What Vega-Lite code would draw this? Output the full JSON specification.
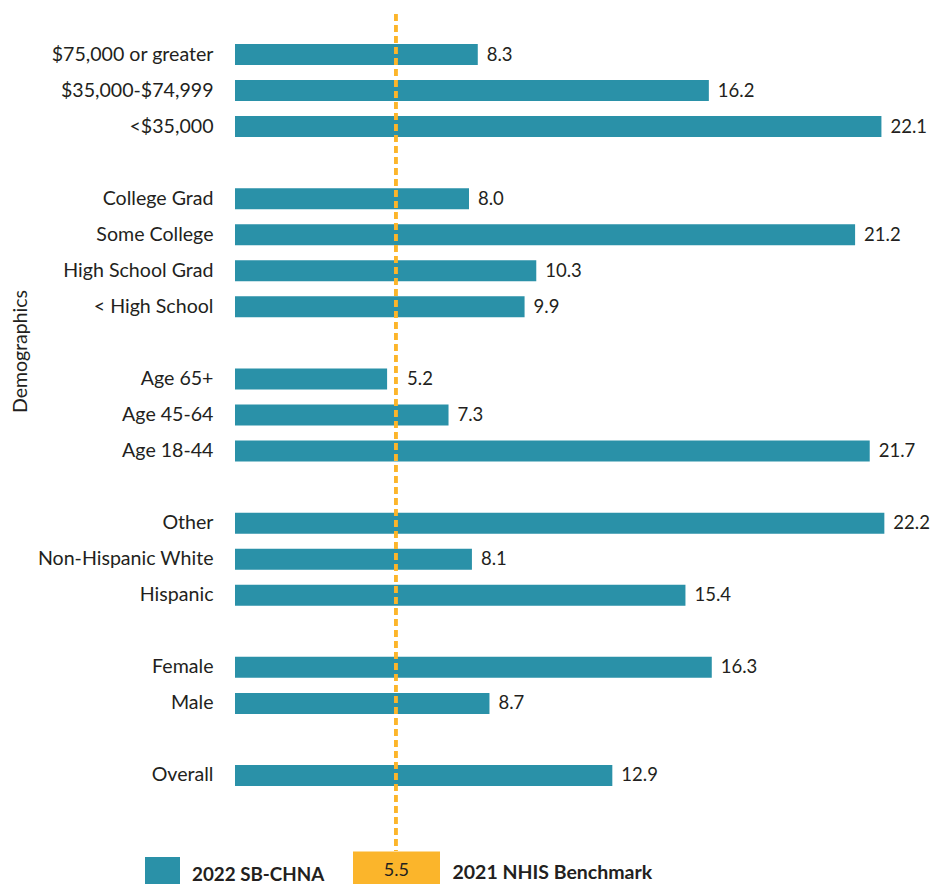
{
  "$schema": "https://vega.github.io/schema/vega-lite/v6.json",
  "autosize": {"type": "none"},
  "width": 702,
  "height": 837,
  "padding": {"left": 235, "top": 14, "right": 1, "bottom": 33},
  "background": "white",
  "config": {"view": {"stroke": null}, "font": "Lato"},
  "data": {
    "values": [
      {"group": "$75,000 or greater", "value": 8.3},
      {"group": "$35,000-$74,999", "value": 16.2},
      {"group": "<$35,000", "value": 22.1},
      {"group": "College Grad", "value": 8.0},
      {"group": "Some College", "value": 21.2},
      {"group": "High School Grad", "value": 10.3},
      {"group": "< High School", "value": 9.9},
      {"group": "Age 65+", "value": 5.2},
      {"group": "Age 45-64", "value": 7.3},
      {"group": "Age 18-44", "value": 21.7},
      {"group": "Other", "value": 22.2},
      {"group": "Non-Hispanic White", "value": 8.1},
      {"group": "Hispanic", "value": 15.4},
      {"group": "Female", "value": 16.3},
      {"group": "Male", "value": 8.7},
      {"group": "Overall", "value": 12.9}
    ]
  },
  "layer": [
    {
      "mark": {"type": "bar"},
      "encoding": {
        "y": {
          "field": "group",
          "type": "nominal",
          "scale": {
            "domain": ["$75,000 or greater", "$35,000-$74,999", "<$35,000", " ", "College Grad", "Some College", "High School Grad", "< High School", "  ", "Age 65+", "Age 45-64", "Age 18-44", "   ", "Other", "Non-Hispanic White", "Hispanic", "    ", "Female", "Male", "     ", "Overall", "      "],
            "paddingInner": 0.4175,
            "paddingOuter": 0.818,
            "align": 0.509
          },
          "axis": {
            "title": "Demographics",
            "domain": false,
            "ticks": false,
            "labelPadding": 22,
            "labelFontSize": 19.6,
            "labelColor": "#231f20",
            "labelLimit": 230,
            "titleFontSize": 19.5,
            "titleFontWeight": "normal",
            "titleColor": "#231f20",
            "titleX": -215,
            "titleY": 337,
            "titleAngle": -90,
            "titleAlign": "center",
            "titleBaseline": "middle"
          }
        },
        "x": {
          "field": "value",
          "type": "quantitative",
          "scale": {"domain": [0, 24], "nice": false},
          "axis": {
            "values": [5.5],
            "domain": false,
            "grid": false,
            "ticks": true,
            "tickSize": 33,
            "tickWidth": 87,
            "tickColor": "#fbb52b",
            "tickCap": "butt",
            "labelPadding": -14,
            "labelBaseline": "middle",
            "labelFontSize": 18,
            "labelColor": "#231f20",
            "labelFlush": false,
            "labelOverlap": false,
            "format": ".1f",
            "title": "2021 NHIS Benchmark",
            "titleX": 217,
            "titleY": 27,
            "titleAnchor": "start",
            "titleAlign": "left",
            "titleBaseline": "alphabetic",
            "titleFontSize": 19.5,
            "titleFontWeight": "bold",
            "titleColor": "#231f20"
          }
        },
        "color": {
          "datum": "2022 SB-CHNA",
          "type": "nominal",
          "scale": {"range": ["#2a91a8"]},
          "legend": {
            "orient": "none",
            "legendX": -90,
            "legendY": 843,
            "title": null,
            "padding": 0,
            "symbolType": "square",
            "symbolSize": 1225,
            "symbolStrokeWidth": 0,
            "symbolOpacity": 1,
            "labelFontSize": 18.8,
            "labelFontWeight": "bold",
            "labelColor": "#231f20",
            "labelOffset": 12
          }
        }
      }
    },
    {
      "transform": [{"filter": "datum.value >= 5.5 || datum.value < 4.5"}],
      "mark": {"type": "text", "align": "left", "baseline": "middle", "dx": 9, "fontSize": 18.5, "color": "#231f20"},
      "encoding": {
        "y": {"field": "group", "type": "nominal"},
        "x": {"field": "value", "type": "quantitative"},
        "text": {"field": "value", "type": "quantitative", "format": ".1f"}
      }
    },
    {
      "transform": [{"filter": "datum.value < 5.5 && datum.value >= 4.5"}],
      "mark": {"type": "text", "align": "left", "baseline": "middle", "dx": 20, "fontSize": 18.5, "color": "#231f20"},
      "encoding": {
        "y": {"field": "group", "type": "nominal"},
        "x": {"field": "value", "type": "quantitative"},
        "text": {"field": "value", "type": "quantitative", "format": ".1f"}
      }
    },
    {
      "mark": {"type": "rule", "color": "#fbb52b", "strokeDash": [7, 4], "strokeWidth": 2.5},
      "encoding": {"x": {"datum": 5.5}}
    }
  ]
}
